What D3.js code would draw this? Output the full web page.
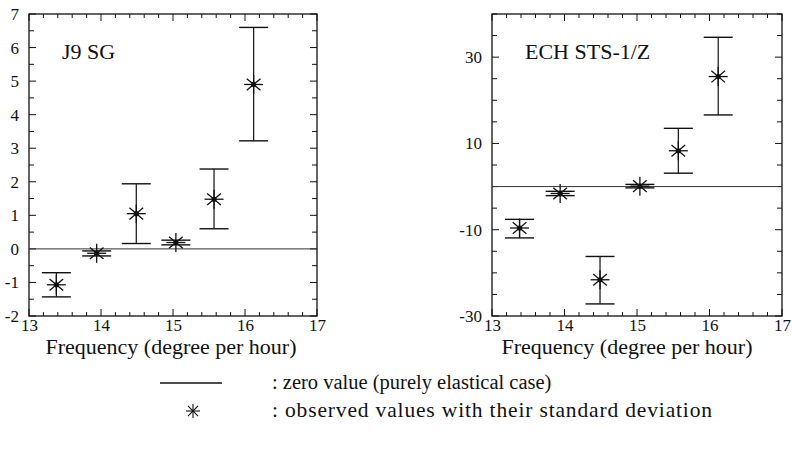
<!DOCTYPE html>
<html><head><meta charset="utf-8">
<script src="https://cdn.jsdelivr.net/npm/d3@7/dist/d3.min.js"></script>
<style>body{margin:0;background:#fff}</style></head>
<body><svg id="c" width="792" height="455"></svg>
<script>
const frequencies = [13.38, 13.94, 14.49, 15.04, 15.57, 16.12];
const j9Values = [-1.07, -0.13, 1.05, 0.19, 1.48, 4.9];
const j9Low = [-1.43, -0.21, 0.16, 0.12, 0.6, 3.22];
const j9High = [-0.71, -0.06, 1.94, 0.26, 2.38, 6.6];
const echValues = [-9.6, -1.6, -21.6, 0.1, 8.3, 25.5];
const echLow = [-11.9, -2.1, -27.2, -0.3, 3.1, 16.6];
const echHigh = [-7.6, -1.1, -16.2, 0.5, 13.5, 34.6];
const xTicks = [13, 14, 15, 16, 17];
const j9YTicks = [-2, -1, 0, 1, 2, 3, 4, 5, 6, 7];
const echYTicks = [-30, -10, 10, 30];
const panelNames = ["J9 SG", "ECH STS-1/Z"];
const xTitle = "Frequency (degree per hour)";
const legendTexts = [": zero value (purely elastical case)", ": observed values with their standard deviation"];

const FONT = '"Liberation Serif", "Times New Roman", serif';
const svg = d3.select("#c");
const INK = "#111";
const fmt = v => String(v);

function star(g, cx, cy, r) {
  const s = g.append("g").attr("transform", `translate(${cx},${cy})`);
  const d = r * 0.72;
  [[-r,0,r,0],[0,-r,0,r],[-d,-d*0.85,d,d*0.85],[-d,d*0.85,d,-d*0.85]].forEach(a =>
    s.append("line").attr("x1",a[0]).attr("y1",a[1]).attr("x2",a[2]).attr("y2",a[3])
      .attr("stroke",INK).attr("stroke-width",1.3));
  s.append("circle").attr("r",2.6).attr("fill",INK);
}

function txt(sel, size) {
  return sel.style("font-family", FONT).style("font-size", size + "px").attr("fill", INK);
}

function panel(opt) {
  const {left, right, top, bottom, yDomain, yLabels, yMinorStep, vals, lo, hi, name, titleX} = opt;
  const x = d3.scaleLinear().domain([13, 17]).range([left, right]);
  const y = d3.scaleLinear().domain(yDomain).range([bottom, top]);
  const g = svg.append("g");

  g.append("rect").attr("x",left).attr("y",top).attr("width",right-left).attr("height",bottom-top)
    .attr("fill","none").attr("stroke",INK).attr("stroke-width",1.3);

  d3.range(13, 17.0001, 0.2).forEach(v => {
    const major = Math.abs(v - Math.round(v)) < 1e-6;
    const len = major ? 7 : 4;
    g.append("line").attr("x1",x(v)).attr("x2",x(v)).attr("y1",bottom).attr("y2",bottom-len).attr("stroke",INK);
    g.append("line").attr("x1",x(v)).attr("x2",x(v)).attr("y1",top).attr("y2",top+len).attr("stroke",INK);
  });
  d3.range(yDomain[0], yDomain[1] + 1e-6, yMinorStep).forEach(v => {
    const major = yLabels.includes(Math.round(v*1000)/1000);
    const len = major ? 7 : 5;
    g.append("line").attr("x1",left).attr("x2",left+len).attr("y1",y(v)).attr("y2",y(v)).attr("stroke",INK);
    g.append("line").attr("x1",right).attr("x2",right-len).attr("y1",y(v)).attr("y2",y(v)).attr("stroke",INK);
  });

  const xa = g.append("g").attr("transform",`translate(0,${bottom})`)
    .call(d3.axisBottom(x).tickValues(xTicks).tickSize(0).tickPadding(3).tickFormat(fmt));
  xa.select(".domain").remove();
  txt(xa.selectAll("text"), 17);
  const ya = g.append("g").attr("transform",`translate(${left},0)`)
    .call(d3.axisLeft(y).tickValues(yLabels).tickSize(0).tickPadding(10).tickFormat(fmt));
  ya.select(".domain").remove();
  txt(ya.selectAll("text"), 17);

  g.append("line").attr("x1",left).attr("x2",right).attr("y1",y(0)).attr("y2",y(0))
    .attr("stroke","#333").attr("stroke-width",1);

  const cap = 14.5;
  frequencies.forEach((f,i) => {
    const cx = x(f);
    g.append("line").attr("x1",cx).attr("x2",cx).attr("y1",y(lo[i])).attr("y2",y(hi[i])).attr("stroke",INK).attr("stroke-width",1.2);
    [lo[i], hi[i]].forEach(v => g.append("line").attr("x1",cx-cap).attr("x2",cx+cap).attr("y1",y(v)).attr("y2",y(v))
      .attr("stroke",INK).attr("stroke-width",1.4));
    star(g, cx, y(vals[i]), 9.5);
  });

  txt(g.append("text").attr("x",left + 33).attr("y",top+45), 22).text(name);
  txt(g.append("text").attr("x",titleX).attr("y",bottom+38).attr("text-anchor","middle"), 22).text(xTitle);
}

panel({left:29, right:317, top:14, bottom:316, yDomain:[-2,7], yLabels:j9YTicks, yMinorStep:0.5,
  vals:j9Values, lo:j9Low, hi:j9High, name:panelNames[0], titleX:171});
panel({left:492, right:782, top:14, bottom:316, yDomain:[-30,40], yLabels:echYTicks, yMinorStep:5,
  vals:echValues, lo:echLow, hi:echHigh, name:panelNames[1], titleX:627});

const lg = svg.append("g");
lg.append("line").attr("x1",160).attr("x2",222).attr("y1",383).attr("y2",383).attr("stroke",INK).attr("stroke-width",1.3);
txt(lg.append("text").attr("x",272).attr("y",389), 20.5).text(legendTexts[0]);
(function(){
  const s = lg.append("g").attr("transform","translate(193,411)");
  const r = 7, d = r*0.72;
  [[-r,0,r,0],[0,-r,0,r],[-d,-d,d,d],[-d,d,d,-d]].forEach(a =>
    s.append("line").attr("x1",a[0]).attr("y1",a[1]).attr("x2",a[2]).attr("y2",a[3]).attr("stroke",INK).attr("stroke-width",1.1));
})();
txt(lg.append("text").attr("x",272).attr("y",417), 21.5).attr("textLength",440).attr("lengthAdjust","spacing").text(legendTexts[1]);
</script></body></html>
